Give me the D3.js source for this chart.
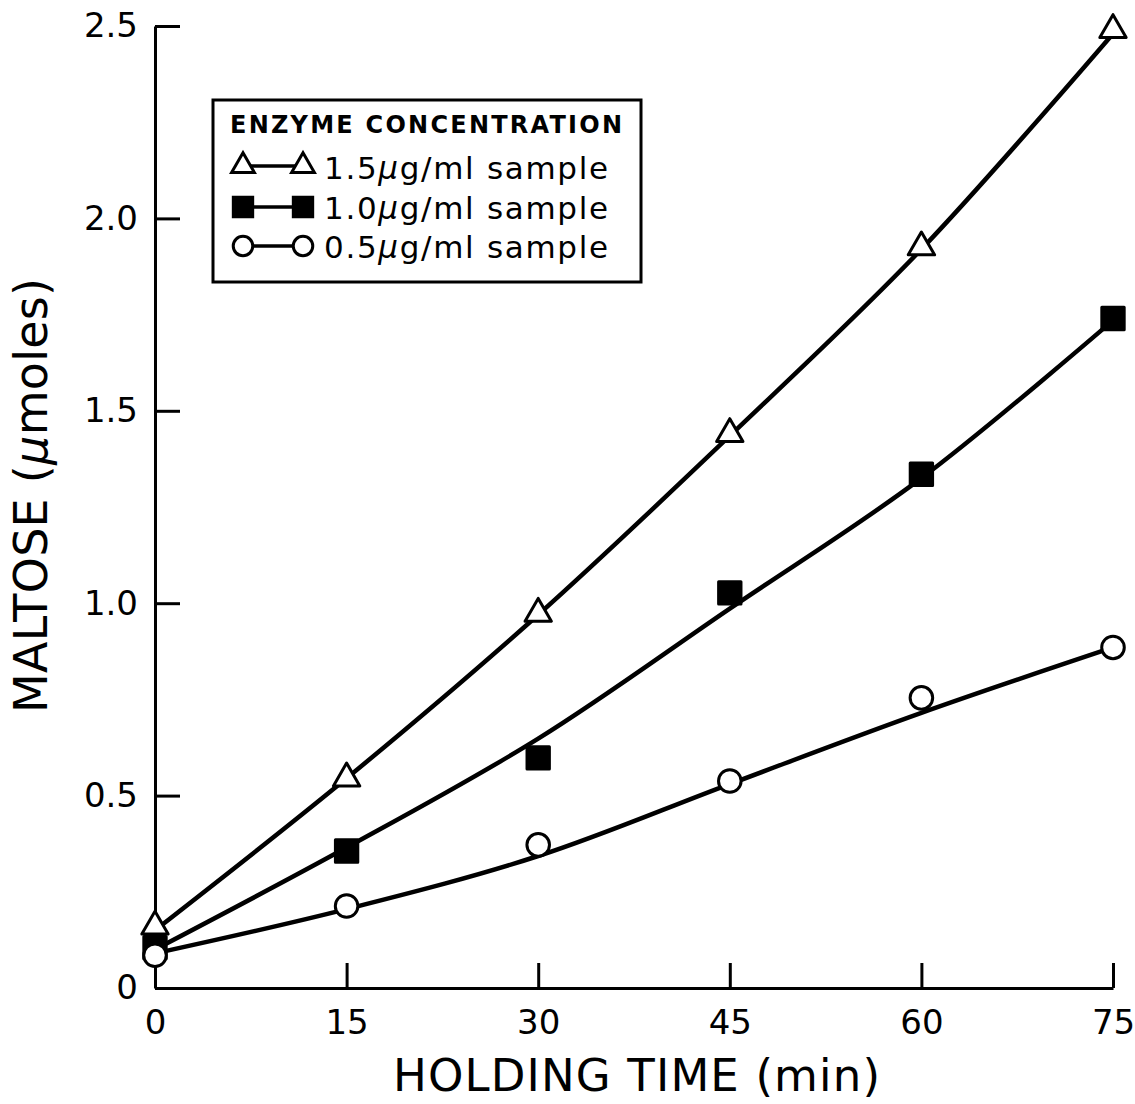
<!DOCTYPE html>
<html>
<head>
<meta charset="utf-8">
<script src="https://cdn.jsdelivr.net/npm/d3@7"></script>
<style>
  body { margin: 0; background: #fff; }
  svg { display: block; font-family: "DejaVu Sans", "Liberation Sans", sans-serif; }
</style>
</head>
<body>
<div id="chart"></div>
<script>
// Holding time (min) for every sample
const times = [0, 15, 30, 45, 60, 75];

// Measured maltose (umoles) per enzyme concentration
const high = [0.16, 0.545, 0.973, 1.44, 1.925, 2.49];   // 1.5 ug/ml
const mid  = [0.105, 0.356, 0.598, 1.027, 1.335, 1.74]; // 1.0 ug/ml
const low  = [0.085, 0.213, 0.372, 0.538, 0.754, 0.885]; // 0.5 ug/ml

// Hand-drawn fitted curves at the same times
const highFit = [0.15, 0.545, 0.97, 1.435, 1.92, 2.48];
const midFit  = [0.10, 0.365, 0.648, 0.986, 1.325, 1.735];
const lowFit  = [0.09, 0.205, 0.343, 0.53, 0.715, 0.885];

const xTicks = [0, 15, 30, 45, 60, 75];
const yTicks = [0, 0.5, 1.0, 1.5, 2.0, 2.5];

const legendTitle = "ENZYME CONCENTRATION";
const legendLabels = ["1.5", "1.0", "0.5"];

const width = 1135, height = 1104;

const svg = d3.select("#chart").append("svg")
    .attr("width", width)
    .attr("height", height);

// Scales
const x = d3.scaleLinear().domain([0, 75]).range([155, 1113]);
const y = d3.scaleLinear().domain([0, 2.5]).range([988, 26]);

// Axes, ticks pointing inward
const xAxis = d3.axisBottom(x)
    .tickValues(xTicks)
    .tickSizeInner(-25)
    .tickSizeOuter(0)
    .tickPadding(22)
    .tickFormat(d3.format("d"));

const yAxis = d3.axisLeft(y)
    .tickValues(yTicks)
    .tickSizeInner(-25)
    .tickSizeOuter(0)
    .tickPadding(17)
    .tickFormat(d => d === 0 ? "0" : d.toFixed(1));

const gx = svg.append("g")
    .attr("transform", `translate(0,${y(0)})`)
    .call(xAxis);

const gy = svg.append("g")
    .attr("transform", `translate(${x(0)},0)`)
    .call(yAxis);

[gx, gy].forEach(g => {
    g.select(".domain").attr("stroke", "#000").attr("stroke-width", 3);
    g.selectAll(".tick line").attr("stroke", "#000").attr("stroke-width", 3);
    g.selectAll(".tick text")
        .attr("fill", "#000")
        .attr("font-size", 34)
        .attr("font-family", "DejaVu Sans, sans-serif");
});

// Axis titles
svg.append("text")
    .attr("x", 393)
    .attr("y", 1091)
    .attr("font-size", 45)
    .attr("textLength", 487)
    .attr("lengthAdjust", "spacing")
    .text("HOLDING TIME (min)");

svg.append("text")
    .attr("transform", "translate(47,713) rotate(-90)")
    .attr("font-size", 46)
    .attr("textLength", 435)
    .attr("lengthAdjust", "spacing")
    .text("MALTOSE (")
    .append("tspan").attr("font-style", "italic").text("\u03bc")
    .select(function() { return this.parentNode; })
    .append("tspan").text("moles)");

// Fitted curves
const line = d3.line()
    .x((d, i) => x(times[i]))
    .y(d => y(d))
    .curve(d3.curveCatmullRom);

const series = [
    { fit: highFit, pts: high, shape: d3.symbolTriangle, size: 300, fill: "#fff" },
    { fit: midFit,  pts: mid,  shape: d3.symbolSquare,   size: 500, fill: "#000" },
    { fit: lowFit,  pts: low,  shape: d3.symbolCircle,   size: 400, fill: "#fff" }
];

series.forEach(s => {
    svg.append("path")
        .attr("d", line(s.fit))
        .attr("fill", "none")
        .attr("stroke", "#000")
        .attr("stroke-width", 4.5);
});

series.forEach(s => {
    svg.selectAll(null)
        .data(s.pts)
        .enter()
        .append("path")
        .attr("transform", (d, i) => `translate(${x(times[i])},${y(d)})`)
        .attr("d", d3.symbol().type(s.shape).size(s.size))
        .attr("fill", s.fill)
        .attr("stroke", "#000")
        .attr("stroke-width", 3)
        .attr("stroke-linejoin", "round");
});

// Legend
const legend = svg.append("g");
legend.append("rect")
    .attr("x", 213).attr("y", 100)
    .attr("width", 428).attr("height", 182)
    .attr("fill", "#fff")
    .attr("stroke", "#000")
    .attr("stroke-width", 3);

legend.append("text")
    .attr("x", 230).attr("y", 133)
    .attr("font-size", 24)
    .attr("font-weight", "bold")
    .attr("textLength", 392)
    .attr("lengthAdjust", "spacing")
    .text(legendTitle);

const rowY = [166, 207, 246];
const baseY = [179, 219, 258];
series.forEach((s, i) => {
    const row = legend.append("g");
    row.append("line")
        .attr("x1", 243).attr("x2", 303)
        .attr("y1", rowY[i]).attr("y2", rowY[i])
        .attr("stroke", "#000")
        .attr("stroke-width", 3.5);
    [243, 303].forEach(cx => {
        row.append("path")
            .attr("transform", `translate(${cx},${rowY[i]})`)
            .attr("d", d3.symbol().type(s.shape).size(s.size * 0.75))
            .attr("fill", s.fill)
            .attr("stroke", "#000")
            .attr("stroke-width", 3);
    });
    const t = row.append("text")
        .attr("x", 324).attr("y", baseY[i])
        .attr("font-size", 31)
        .attr("textLength", 284)
        .attr("lengthAdjust", "spacing");
    t.append("tspan").text(legendLabels[i]);
    t.append("tspan").attr("font-style", "italic").text("\u03bc");
    t.append("tspan").text("g/ml sample");
});
</script>
</body>
</html>
